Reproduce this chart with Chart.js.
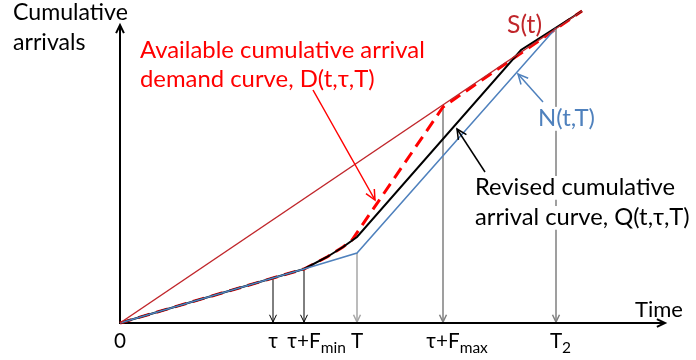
<!DOCTYPE html>
<html>
<head>
<meta charset="utf-8">
<script src="https://cdn.jsdelivr.net/npm/chart.js@4/dist/chart.umd.min.js"></script>
<style>
  body { margin: 0; background: #fff; }
  #wrap { width: 696px; height: 360px; }
</style>
</head>
<body>
<div id="wrap"><canvas id="chart"></canvas></div>
<script>
// Positions on the time axis (arbitrary units) and their labels
const tickLabels = [['0'], ['τ'], ['τ+F', '_min'], ['T'], ['τ+F', '_max'], ['T', '_2']];
const tickTimes = [0, 153, 184, 237, 323, 436];

// S(t)
const sTimes = [0, 462];
const sValues = [0, 312];

// D(t,τ,T) - available cumulative arrival demand
const dTimes = [0, 153, 184, 207, 223, 232, 323, 462];
const dValues = [0, 45, 54, 66, 76, 83, 216, 312];

// Q(t,τ,T) - revised cumulative arrivals
const qTimes = [0, 153, 184, 207, 223, 237, 401, 462];
const qValues = [0, 45, 54, 66, 76, 86, 273, 312];

// N(t,T)
const nTimes = [0, 153, 184, 237, 436];
const nValues = [0, 45, 54, 70, 295];

// marker lines dropped from the curves to the time axis
const dropTimes = [153, 184, 237, 323, 436];
const dropValues = [45, 54, 70, 216, 295];

const FONT = "Lato, 'Noto Sans', 'DejaVu Sans', sans-serif";
const SUB = 0.75;

function pts(xs, ys) {
    return xs.map((x, i) => ({ x: x, y: ys[i] }));
}

function fitSize(ctx, text, width) {
    ctx.font = '20px ' + FONT;
    return 20 * width / ctx.measureText(text).width;
}

function openHead(ctx, x, y, angle, len, spread) {
    ctx.beginPath();
    ctx.moveTo(x - len * Math.cos(angle - spread), y - len * Math.sin(angle - spread));
    ctx.lineTo(x, y);
    ctx.lineTo(x - len * Math.cos(angle + spread), y - len * Math.sin(angle + spread));
    ctx.stroke();
}

function arrow(ctx, x1, y1, x2, y2, color, width, len) {
    ctx.strokeStyle = color;
    ctx.lineWidth = width;
    ctx.beginPath();
    ctx.moveTo(x1, y1);
    ctx.lineTo(x2, y2);
    ctx.stroke();
    openHead(ctx, x2, y2, Math.atan2(y2 - y1, x2 - x1), len, 0.45);
}

// text with optional subscript parts (prefixed by "_")
function richWidth(ctx, parts, size) {
    let w = 0;
    parts.forEach(p => {
        const sub = p[0] === '_';
        ctx.font = (sub ? size * SUB : size) + 'px ' + FONT;
        w += ctx.measureText(sub ? p.slice(1) : p).width;
    });
    return w;
}

function drawRich(ctx, parts, x, y, size) {
    parts.forEach(p => {
        const sub = p[0] === '_';
        const t = sub ? p.slice(1) : p;
        ctx.font = (sub ? size * SUB : size) + 'px ' + FONT;
        ctx.fillText(t, x, sub ? y + size * 0.25 : y);
        x += ctx.measureText(t).width;
    });
}

function textBlock(ctx, lines, x, y, lineGap, width, color, clear) {
    const size = fitSize(ctx, lines[0], width);
    ctx.font = size + 'px ' + FONT;
    lines.forEach((line, i) => {
        const yy = y + i * lineGap;
        if (clear) {
            ctx.fillStyle = '#fff';
            ctx.fillRect(x - 2, yy - size * 0.8, ctx.measureText(line).width + 4, size * 1.0);
        }
        ctx.fillStyle = color;
        ctx.fillText(line, x, yy);
    });
}

const diagram = {
    id: 'diagram',
    beforeDatasetsDraw(chart) {
        const ctx = chart.ctx;
        const xs = chart.scales.x, ys = chart.scales.y;
        const x0 = xs.getPixelForValue(0), y0 = ys.getPixelForValue(0);
        ctx.save();
        // drop lines with arrow heads on the time axis
        dropTimes.forEach((t, i) => {
            const px = xs.getPixelForValue(t);
            const col = i < 2 ? '#000' : (i === 2 ? '#a6a6a6' : '#7f7f7f');
            arrow(ctx, px, ys.getPixelForValue(dropValues[i]), px, y0 - 1, col, i < 2 ? 1 : 1.5, 8);
        });
        // axes
        ctx.lineCap = 'butt';
        arrow(ctx, x0, y0, x0, ys.getPixelForValue(298), '#000', 2, 9);
        arrow(ctx, x0 - 1, y0, xs.getPixelForValue(545), y0, '#000', 2, 9);
        ctx.restore();
    },
    afterDatasetsDraw(chart) {
        const ctx = chart.ctx;
        const xs = chart.scales.x, ys = chart.scales.y;
        const X = v => xs.getPixelForValue(v), Y = v => ys.getPixelForValue(v);
        ctx.save();
        ctx.textBaseline = 'alphabetic';
        ctx.textAlign = 'left';

        // callout arrows
        arrow(ctx, X(193), Y(233), X(255), Y(123), '#ff0000', 1.5, 11);
        arrow(ctx, X(423), Y(221), X(398), Y(249), '#4f81bd', 1.5, 11);
        arrow(ctx, X(365), Y(151), X(337), Y(194), '#000', 1.5, 11);

        // labels
        textBlock(ctx, ['Cumulative', 'arrivals'], 13, 20, 30, 115, '#000', false);
        textBlock(ctx, ['Available cumulative arrival', 'demand curve, D(t,τ,T)'], 140, 58, 29, 285, '#ff0000', false);
        textBlock(ctx, ['S(t)'], 507, 33, 0, 35, '#c0262b', false);
        textBlock(ctx, ['N(t,T)'], 538, 126, 0, 57, '#4f81bd', true);
        textBlock(ctx, ['Revised cumulative', 'arrival curve, Q(t,τ,T)'], 475, 195, 30, 200, '#000', true);
        textBlock(ctx, ['Time'], 635, 317, 0, 48, '#000', false);

        // time axis tick labels, main part centred on the tick
        const size = fitSize(ctx, '0', 12);
        ctx.fillStyle = '#000';
        tickLabels.forEach((parts, i) => {
            const main = richWidth(ctx, [parts[0]], size);
            drawRich(ctx, parts, X(tickTimes[i]) - main / 2, 348, size);
        });
        ctx.restore();
    }
};

new Chart(document.getElementById('chart'), {
    type: 'line',
    data: {
        datasets: [
            { data: pts(sTimes, sValues), borderColor: '#c0262b', borderWidth: 1.5 },
            { data: pts(nTimes, nValues), borderColor: '#4f81bd', borderWidth: 1.5 },
            { data: pts(qTimes, qValues), borderColor: '#000', borderWidth: 2 },
            { data: pts(dTimes, dValues), borderColor: '#ff0000', borderWidth: 3, borderDash: [12, 7] }
        ]
    },
    options: {
        responsive: true,
        maintainAspectRatio: false,
        animation: false,
        layout: { padding: { left: 120, right: 31, top: 8, bottom: 37 } },
        elements: { point: { radius: 0 }, line: { tension: 0, fill: false } },
        datasets: { line: { clip: false } },
        scales: {
            x: { type: 'linear', min: 0, max: 545, display: false },
            y: { type: 'linear', min: 0, max: 315, display: false }
        },
        plugins: { legend: { display: false }, tooltip: { enabled: false } }
    },
    plugins: [diagram]
});
</script>
</body>
</html>
